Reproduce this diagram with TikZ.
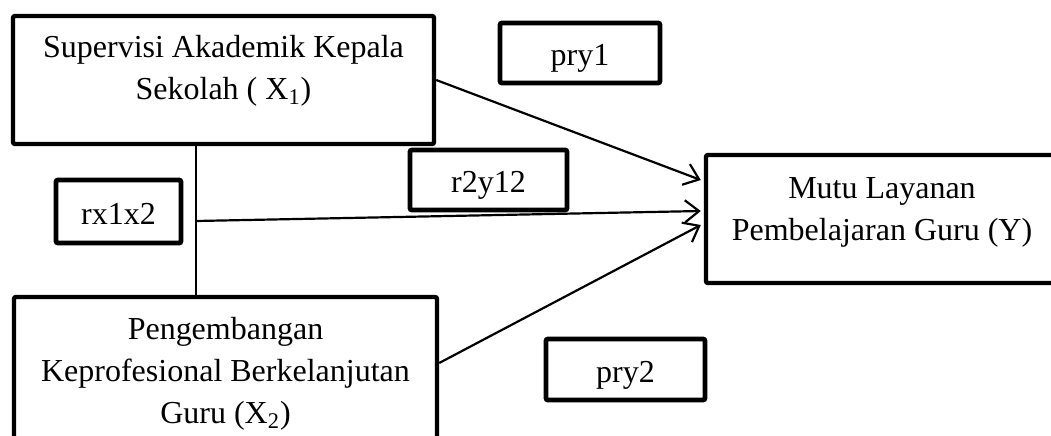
\documentclass[tikz,border=0pt]{standalone}
\usepackage{fontspec}
\setmainfont{Liberation Serif}
\usetikzlibrary{positioning,arrows.meta,calc}
\newcommand{\bodyfont}{\fontsize{16pt}{21pt}\selectfont}
\tikzset{
  var/.style ={draw, line width=2.2pt, rounded corners=1pt, inner sep=0pt},
  vtext/.style={align=center, font=\bodyfont, inner sep=0pt},
  coef/.style={draw, line width=2.4pt, rounded corners=1pt, inner sep=0pt, font=\bodyfont, text height=14pt, text depth=1.2pt},
  link/.style={line width=1.1pt},
  corr/.style={line width=0.6pt},
  >={Straight Barb[length=7pt,width=11pt]},
}

\begin{document}
\begin{tikzpicture}[x=0.5pt,y=-0.5pt]
\useasboundingbox (0,0) rectangle (1051,435);
\clip (0,0) rectangle (1051,435);
% variables
\node[var, minimum width=210.5pt, minimum height=64pt] (sup) at (223.5,80) {};
\node[var, minimum width=211.5pt, minimum height=85pt] (peng) at (225.5,382) {};
\node[var, minimum width=176pt, minimum height=64pt] (mutu) at (882,219) {};
\node[vtext] (sup-t) at ($(sup)+(0,-9)$) {Supervisi Akademik Kepala\\Sekolah ( X\textsubscript{1})};
\node[vtext] (peng-t) at ($(peng)+(0,-8.5)$) {Pengembangan\\Keprofesional Berkelanjutan\\Guru (X\textsubscript{2})};
\node[vtext] (mutu-t) at ($(mutu)+(0,-7)$) {Mutu Layanan\\Pembelajaran Guru (Y)};
% coefficients
\node[coef, minimum width=62.5pt, minimum height=31.5pt] (rx) at (118.5,211.5) {rx1x2};
\node[coef, minimum width=78.5pt, minimum height=30pt] (r2) at (488.5,180) {r2y12};
\node[coef, minimum width=80pt, minimum height=30pt] (p1) at (580,53) {pry1};
\node[coef, minimum width=79.5pt, minimum height=30.5pt] (p2) at (625.5,369.5) {pry2};
% correlation between X1 and X2
\coordinate (j) at (196,221);
\draw[corr] (sup.south -| j) -- (peng.north -| j);
% paths into Y
\draw[link,->] (sup.east) -- ($(mutu.west)+(-3,-39)$);
\draw[link,->] (j) -- ($(mutu.west)+(-3,-8)$);
\draw[link,->] ($(peng.east)+(0,-19)$) -- ($(mutu.west)+(-3,6)$);
\end{tikzpicture}
\end{document}
